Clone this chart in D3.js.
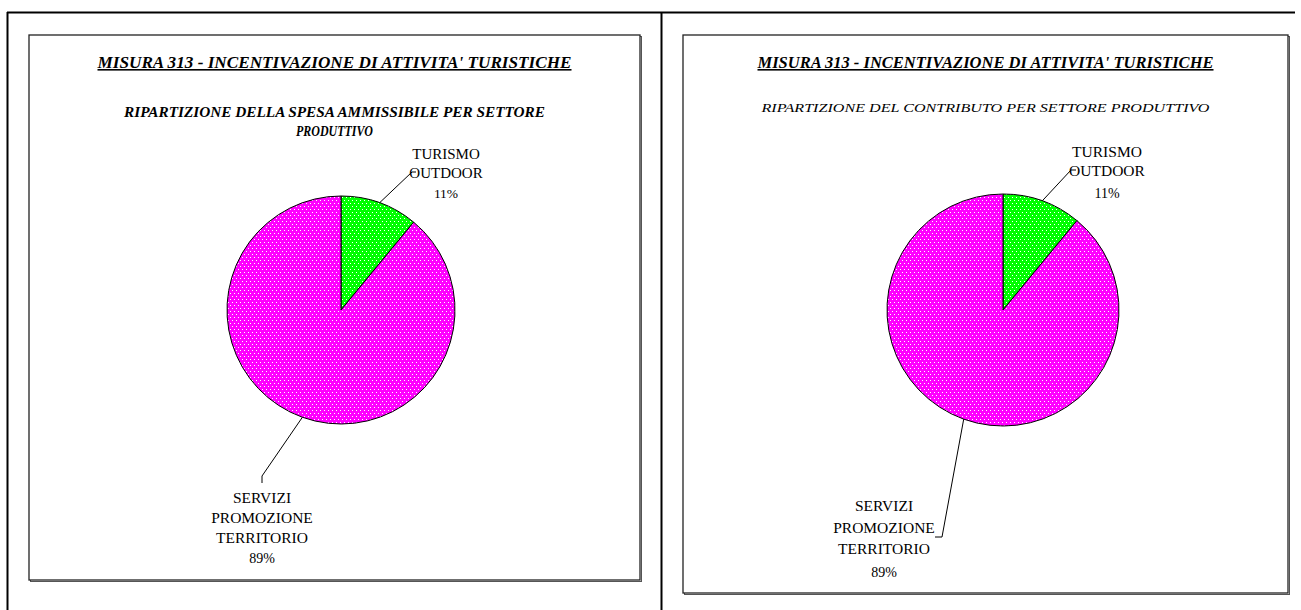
<!DOCTYPE html>
<html><head><meta charset="utf-8">
<script src="https://cdn.jsdelivr.net/npm/d3@7"></script>
<style>
html,body{margin:0;padding:0;background:#fff;}
svg{display:block;}
text{font-family:"Liberation Serif","Times New Roman","DejaVu Serif",serif;fill:#000;}
</style></head>
<body>
<svg id="c" width="1301" height="610"></svg>
<script>
// ---- data ----
const categories = ["TURISMO OUTDOOR", "SERVIZI PROMOZIONE TERRITORIO"];
const labelLines = [["TURISMO", "OUTDOOR"], ["SERVIZI", "PROMOZIONE", "TERRITORIO"]];
const spesaShares = [11, 89];       // % spesa ammissibile
const contributoShares = [11, 89];  // % contributo
const mainTitle = "MISURA 313 - INCENTIVAZIONE DI ATTIVITA' TURISTICHE";
const subtitleLeft = ["RIPARTIZIONE DELLA SPESA AMMISSIBILE PER SETTORE", "PRODUTTIVO"];
const subtitleRight = ["RIPARTIZIONE DEL CONTRIBUTO PER SETTORE PRODUTTIVO"];
const sliceColors = ["#00ff00", "#ff00ff"];

const svg = d3.select("#c");
const defs = svg.append("defs");
sliceColors.forEach((c, i) => {
  const p = defs.append("pattern").attr("id", "pat" + i).attr("patternUnits", "userSpaceOnUse")
    .attr("width", 4).attr("height", 6);
  p.append("rect").attr("width", 4).attr("height", 6).attr("fill", c);
  p.append("rect").attr("x", 1).attr("y", 1).attr("width", 1).attr("height", 1).attr("fill", "#fff");
  p.append("rect").attr("x", 3).attr("y", 4).attr("width", 1).attr("height", 1).attr("fill", "#fff");
});

// outer table frame
svg.append("line").attr("x1", 7).attr("x2", 1295).attr("y1", 12.5).attr("y2", 12.5).attr("stroke", "#000").attr("stroke-width", 2);
svg.append("line").attr("x1", 7.5).attr("x2", 7.5).attr("y1", 12).attr("y2", 610).attr("stroke", "#000").attr("stroke-width", 2);
svg.append("line").attr("x1", 661.5).attr("x2", 661.5).attr("y1", 12).attr("y2", 610).attr("stroke", "#000").attr("stroke-width", 2);

const panels = [
  {box: [29, 35, 640, 580], cx: 341, cy: 310, r: 114, values: spesaShares, sub: subtitleLeft, subBold: true,
   titleY: 68, titleLen: 474, subY: [117, 136], subLen: [421, 77], subSize: 15,
   lab0: {elbow: [412, 172], end: [416, 172], x: 446, ys: [159, 178, 198], size: 15},
   lab1: {elbow: [262, 476], end: [262, 483], x: 262, ys: [503, 523, 543, 563], size: 15.5}},
  {box: [683, 35, 1288, 593], cx: 1003, cy: 310, r: 116, values: contributoShares, sub: subtitleRight, subBold: false,
   titleY: 68, titleLen: 456, subY: [112], subLen: [448], subSize: 12,
   lab0: {elbow: [1071, 170], end: [1076, 170], x: 1107, ys: [157, 176, 198], size: 15.5},
   lab1: {elbow: [942, 537], end: [935, 537], x: 884, ys: [511, 533, 554, 577], size: 15.5}}
];

panels.forEach(P => {
  const [x0, y0, x1, y1] = P.box;
  const g = svg.append("g");
  // shadow + box
  g.append("rect").attr("x", x0 + 1.5).attr("y", y0 + 1.5).attr("width", x1 - x0).attr("height", y1 - y0)
    .attr("fill", "none").attr("stroke", "#555").attr("stroke-width", 1);
  g.append("rect").attr("x", x0).attr("y", y0).attr("width", x1 - x0).attr("height", y1 - y0)
    .attr("fill", "#fff").attr("stroke", "#222").attr("stroke-width", 1.3);
  const mx = (x0 + x1) / 2;
  g.append("text").attr("x", mx).attr("y", P.titleY).attr("text-anchor", "middle")
    .attr("font-size", 16).attr("font-weight", "bold").attr("font-style", "italic")
    .attr("text-decoration", "underline")
    .attr("textLength", P.titleLen).attr("lengthAdjust", "spacingAndGlyphs").text(mainTitle);
  P.sub.forEach((s, i) => {
    g.append("text").attr("x", mx).attr("y", P.subY[i]).attr("text-anchor", "middle")
      .attr("font-size", P.subSize).attr("font-weight", P.subBold ? "bold" : "normal").attr("font-style", "italic")
      .attr("textLength", P.subLen[i]).attr("lengthAdjust", "spacingAndGlyphs").text(s);
  });

  const pie = d3.pie().sort(null).value(d => d)(P.values);
  const arc = d3.arc().innerRadius(0).outerRadius(P.r);
  const pg = g.append("g").attr("transform", `translate(${P.cx},${P.cy})`);
  pg.selectAll("path").data(pie).join("path").attr("d", arc)
    .attr("fill", (d, i) => `url(#pat${i})`).attr("stroke", "#000").attr("stroke-width", 1);

  [P.lab0, P.lab1].forEach((L, i) => {
    const d = pie[i];
    const a = (d.startAngle + d.endAngle) / 2;
    const sx = P.cx + P.r * Math.sin(a), sy = P.cy - P.r * Math.cos(a);
    g.append("polyline").attr("points", [[sx, sy], L.elbow, L.end].map(p => p.join(",")).join(" "))
      .attr("fill", "none").attr("stroke", "#000").attr("stroke-width", 1);
    const lines = labelLines[i].concat([d3.format(".0f")(d.value) + "%"]);
    lines.forEach((t, k) => {
      g.append("text").attr("x", L.x).attr("y", L.ys[k]).attr("text-anchor", "middle")
        .attr("font-size", k === lines.length - 1 ? L.size - 1.5 : L.size).text(t);
    });
  });
});
</script>
</body></html>
